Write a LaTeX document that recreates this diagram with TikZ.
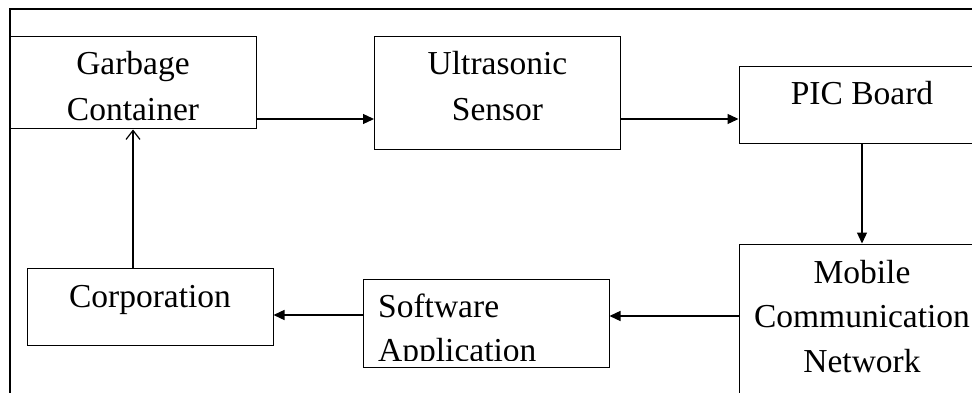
\documentclass[tikz,border=0pt]{standalone}
\usepackage{fontspec}
\setmainfont{Liberation Serif}
\usetikzlibrary{arrows.meta}
\begin{document}
\begin{tikzpicture}[x=1pt,y=-1pt,
  box/.style={draw, rectangle, line width=1pt, minimum width=246pt, inner sep=0pt},
  lbl/.style={inner sep=0pt, anchor=base},
  flow/.style={line width=1.3pt, -{Triangle[length=11pt,width=10pt]}},
  openflow/.style={line width=1.3pt, -{Straight Barb[length=9pt,width=14pt,line width=1.2pt]}},
  frame/.style={line width=1.5pt}]
\path[use as bounding box, clip] (0,0) rectangle (972,393);
\draw[frame] (10,9) rectangle (1000,430);
% boxes
\node[box, minimum height=92pt]  (gc)   at (133,83)    {};
\node[box, minimum height=113pt] (us)   at (497.5,93.5) {};
\node[box, minimum height=77pt]  (pic)  at (862,105.5)  {};
\node[box, minimum height=176pt] (mob)  at (862,332)    {};
\node[box, minimum height=88pt]  (sw)   at (486,323)    {};
\node[box, minimum height=77pt]  (corp) at (150,306.5)  {};
% labels (base anchor = baseline of the last line)
\node[lbl, align=center, font=\fontsize{33.5}{46}\selectfont] (gct) at (133,121) {Garbage\\Container};
\node[lbl, align=center, font=\fontsize{33.5}{46}\selectfont] (ust) at (497.5,121) {Ultrasonic\\Sensor};
\node[lbl, font=\fontsize{33.5}{46}\selectfont] (pict) at (862,105) {PIC Board};
\node[lbl, align=center, font=\fontsize{33.5}{44.5}\selectfont] (mobt) at (862,372) {Mobile\\Communication\\Network};
\node[lbl, font=\fontsize{33.5}{46}\selectfont] (corpt) at (150,307) {Corporation};
\begin{scope}
  \clip (sw.north west) rectangle (609,360.5);
  \node[lbl, anchor=base west, align=left, font=\fontsize{33.5}{44}\selectfont] (swt) at (378,361) {Software\\Application};
\end{scope}
% connectors
\draw[flow] (gc.east |- 0,119) -- (us.west |- 0,119);
\draw[flow] (us.east |- 0,119) -- (pic.west |- 0,119);
\draw[flow] (pic.south) -- (mob.north);
\draw[flow] (mob.west |- 0,316) -- (sw.east |- 0,316);
\draw[flow] (sw.west |- 0,315) -- (corp.east |- 0,315);
\draw[openflow] (gc.south |- corp.north) -- (gc.south);
\end{tikzpicture}
\end{document}
